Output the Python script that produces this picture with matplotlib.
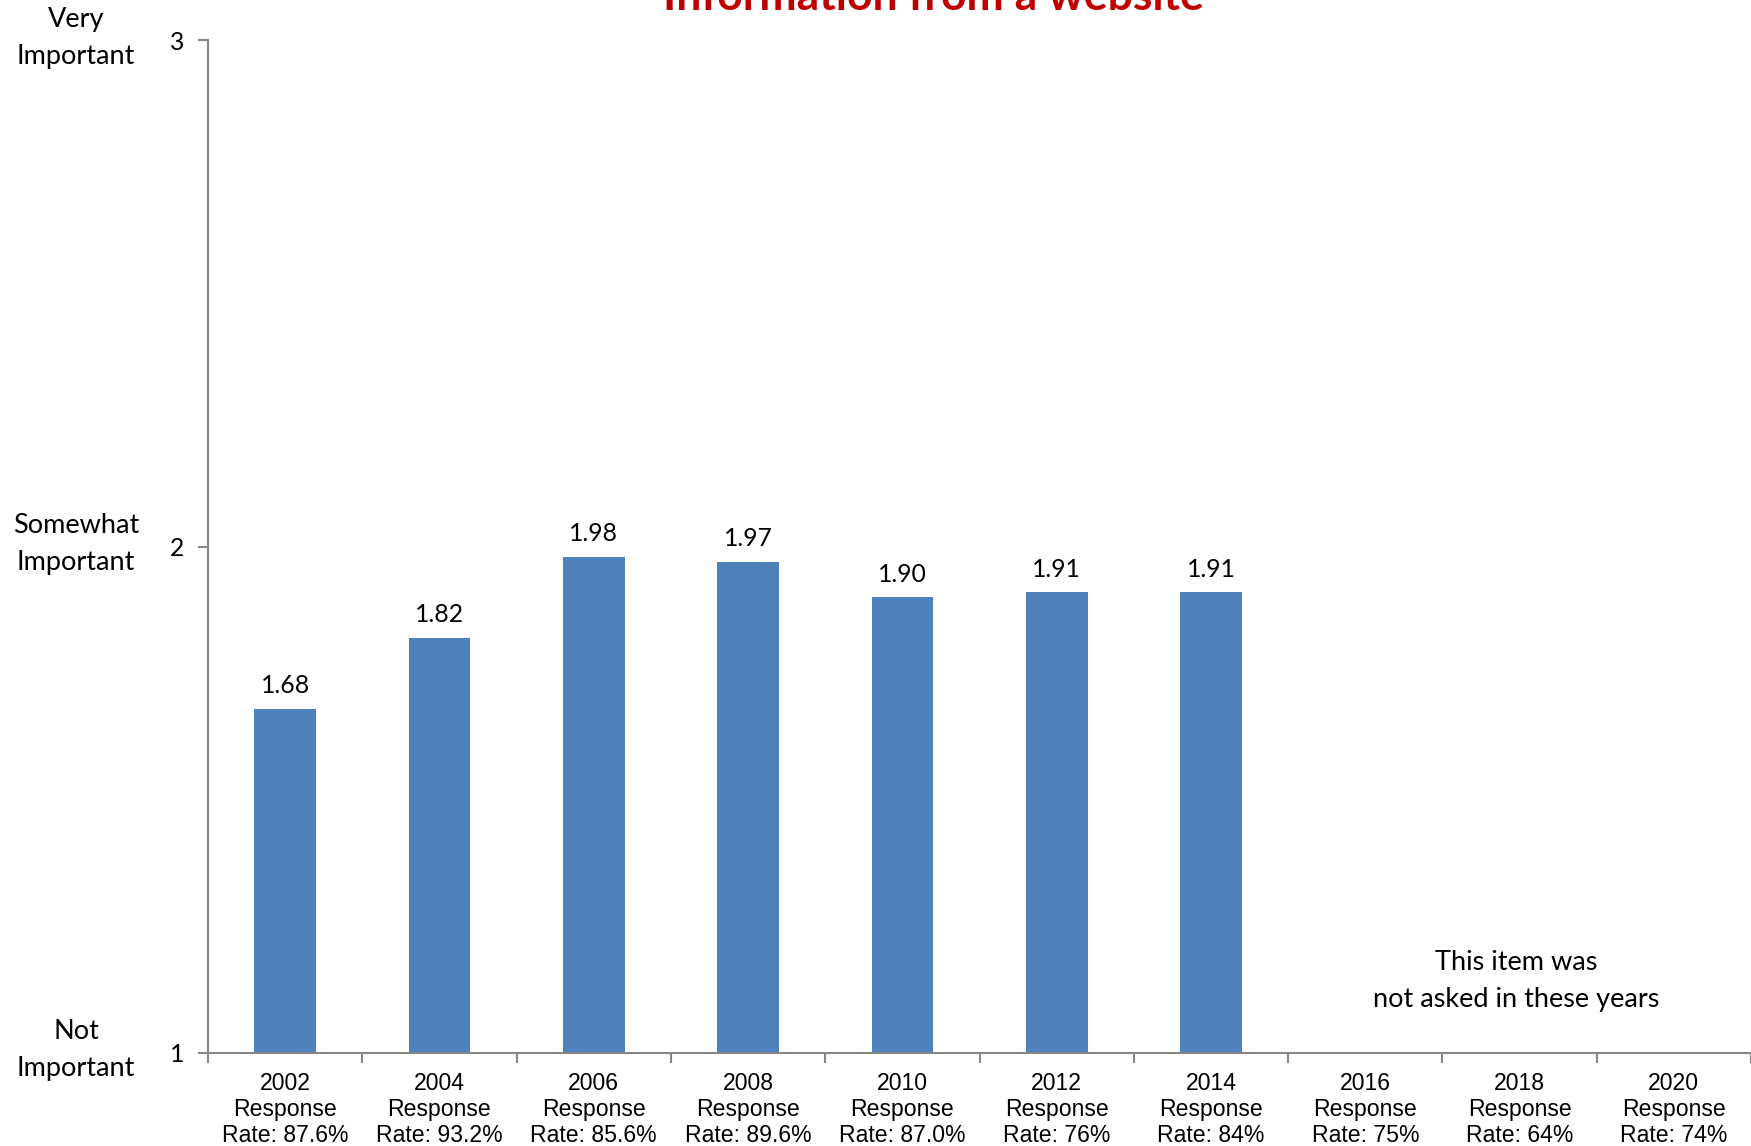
import numpy as np
import matplotlib.pyplot as plt

years = ['2002', '2004', '2006', '2008', '2010', '2012', '2014', '2016', '2018', '2020']
rates = ['87.6%', '93.2%', '85.6%', '89.6%', '87.0%', '76%', '84%', '75%', '64%', '74%']
scores = [1.68, 1.82, 1.98, 1.97, 1.90, 1.91, 1.91, np.nan, np.nan, np.nan]
scale_labels = ['Not\nImportant', 'Somewhat\nImportant', 'Very\nImportant']
scale_vals = [1, 2, 3]

calibri = ['Lato', 'DejaVu Sans']
arial = ['Liberation Sans', 'DejaVu Sans']
bar_color = '#4F81BD'
axis_color = '#868686'

fig = plt.figure(figsize=(17.51, 11.46), dpi=100)
ax = fig.add_axes([0.1188, 0.0812, 0.8812, 0.8838])

x = np.arange(len(years))
ax.bar(x, np.array(scores) - 1, bottom=1, width=0.4, color=bar_color, zorder=2)

for xi, v in zip(x, scores):
    if not np.isnan(v):
        ax.annotate(f'{v:.2f}', xy=(xi, v), xytext=(0, 16.5), textcoords='offset points',
                    ha='center', va='center', fontsize=17.8, family=calibri)

ax.set_xlim(-0.5, len(years) - 0.5)
ax.set_ylim(1, 3)

ax.set_xticks(x)
ax.set_xticklabels([f'{y}\nResponse\nRate: {r}' for y, r in zip(years, rates)],
                   fontsize=16.6, family=arial, linespacing=1.15)
ax.set_xticks(np.arange(-0.5, len(years)), minor=True)
ax.tick_params(axis='x', which='major', length=0, pad=14)
ax.tick_params(axis='x', which='minor', length=7, color=axis_color, width=1.5, direction='out')

ax.set_yticks(scale_vals)
ax.set_yticklabels([str(v) for v in scale_vals], fontsize=17.8, family=calibri)
ax.tick_params(axis='y', length=7, color=axis_color, width=1.5, pad=10)

for side in ['top', 'right']:
    ax.spines[side].set_visible(False)
for side in ['left', 'bottom']:
    ax.spines[side].set_color(axis_color)
    ax.spines[side].set_linewidth(1.5)

trans = ax.get_yaxis_transform()
for lab, v in zip(scale_labels, scale_vals):
    ax.text(-0.0855, v + 0.005, lab, transform=trans, ha='center', va='center',
            fontsize=19.5, family=calibri, linespacing=1.6, clip_on=False)

ax.text(7.98, 1.142, 'This item was\nnot asked in these years', ha='center', va='center',
        fontsize=19.5, family=calibri, linespacing=1.6)

fig.text(0.5333, 0.991, 'Information from a website', ha='center', va='baseline',
         fontsize=32, fontweight='bold', color='#C00000', family=calibri)

fig.savefig('out.png', dpi=100)
